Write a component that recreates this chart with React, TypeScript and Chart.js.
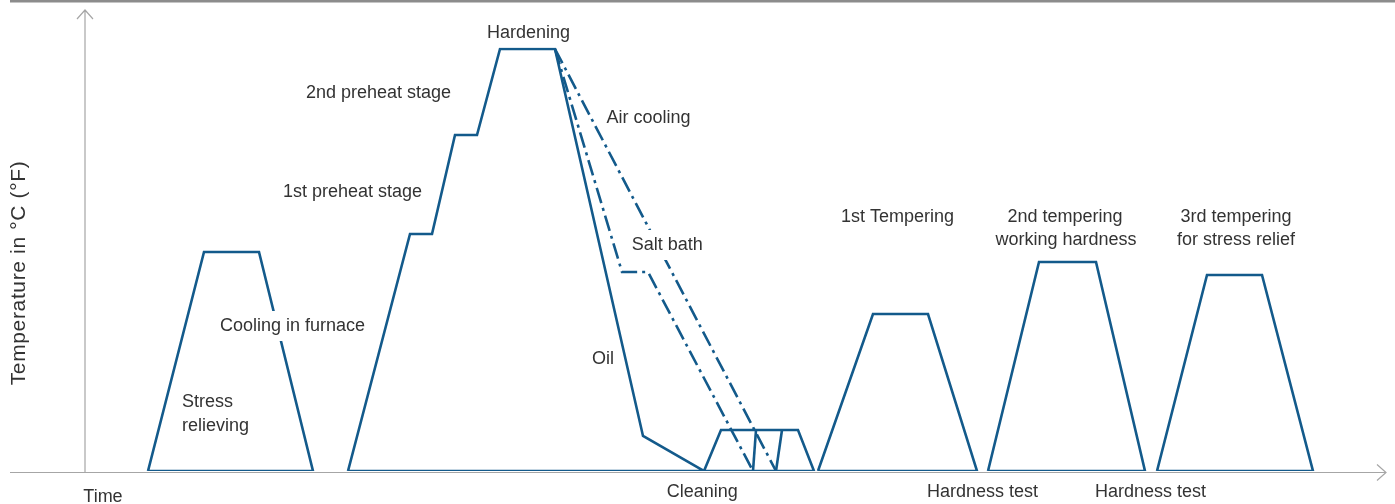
import React, { useEffect, useRef } from "react";
import { Chart, registerables } from "chart.js";

Chart.register(...registerables);

// Time (x) / temperature (y) in relative units
const stressX = [63, 119, 174, 228, 63];
const stressY = [0, 219, 219, 0, 0];

const hardenX = [263, 325, 347, 370, 392, 415, 470, 558, 619, 263];
const hardenY = [0, 237, 237, 336, 336, 422, 422, 35, 0, 0];

const cleanX = [619, 636, 713, 729, 619];
const cleanY = [0, 41, 41, 0, 0];

const saltX = [470, 537, 563, 668];
const saltY = [422, 199, 199, 0];
const saltUpX = [668, 671];
const saltUpY = [0, 41];

const airX = [470, 691];
const airY = [422, 0];
const airUpX = [691, 697];
const airUpY = [0, 41];

const temper1X = [733, 788, 843, 892, 733];
const temper1Y = [0, 157, 157, 0, 0];
const temper2X = [903, 954, 1011, 1060, 903];
const temper2Y = [0, 209, 209, 0, 0];
const temper3X = [1072, 1122, 1177, 1228, 1072];
const temper3Y = [0, 196, 196, 0, 0];

const labelTexts = [
  "Hardening",
  "2nd preheat stage",
  "Air cooling",
  "1st preheat stage",
  "Salt bath",
  "Cooling in furnace",
  "Stress",
  "relieving",
  "Oil",
  "1st Tempering",
  "2nd tempering",
  "working hardness",
  "3rd tempering",
  "for stress relief",
  "Time",
  "Cleaning",
  "Hardness test",
  "Hardness test",
];
const labelX = [402, 221, 521.5, 198, 546.7, 135, 97, 97, 507, 756, 980, 981, 1151, 1151, -1.7, 581.7, 842, 1010];
const labelY = [433.5, 373.5, 347.7, 274.5, 221, 140, 64, 40.5, 107.5, 249.5, 249.3, 226, 249.3, 226, -30.7, -25.7, -25.7, -25.7];
const labelAlign = ["left", "left", "left", "left", "left", "left", "left", "left", "left", "left", "center", "center", "center", "center", "left", "left", "left", "left"];

const yTitle = "Temperature in °C (°F)";

const BLUE = "#135a8b";
const TEXT = "#333333";
const AXIS = "#a6a6a6";
const FONT = '"Liberation Sans", Arial, sans-serif';

function pts(xs: number[], ys: number[]) {
  return xs.map((x, i) => ({ x, y: ys[i] }));
}

function ds(xs: number[], ys: number[], dashed = false) {
  return {
    data: pts(xs, ys),
    showLine: true,
    borderColor: BLUE,
    backgroundColor: BLUE,
    borderWidth: 2.6,
    pointRadius: 0,
    tension: 0,
    fill: false,
    borderJoinStyle: "miter" as const,
    borderCapStyle: "butt" as const,
    borderDash: dashed ? [16, 5, 3, 5] : [],
  };
}

const decorPlugin = {
  id: "decor",
  beforeDatasetsDraw(chart: any) {
    const ctx = chart.ctx as CanvasRenderingContext2D;
    const xs = chart.scales.x;
    const ys = chart.scales.y;
    const x0 = xs.getPixelForValue(0);
    const y0 = ys.getPixelForValue(0) + 1.5;
    const yTop = ys.getPixelForValue(ys.max);
    const xEnd = xs.getPixelForValue(xs.max);
    ctx.save();
    ctx.fillStyle = "#8c8c8c";
    ctx.fillRect(10, 0, chart.width - 10, 2.5);
    ctx.strokeStyle = AXIS;
    ctx.lineWidth = 1.2;
    ctx.beginPath();
    ctx.moveTo(x0, y0);
    ctx.lineTo(x0, yTop);
    ctx.moveTo(x0 - 8, yTop + 9);
    ctx.lineTo(x0, yTop);
    ctx.lineTo(x0 + 8, yTop + 9);
    ctx.moveTo(10, y0);
    ctx.lineTo(xEnd, y0);
    ctx.moveTo(xEnd - 9, y0 - 8);
    ctx.lineTo(xEnd, y0);
    ctx.lineTo(xEnd - 9, y0 + 8);
    ctx.stroke();
    ctx.restore();
  },
  afterDatasetsDraw(chart: any) {
    const ctx = chart.ctx as CanvasRenderingContext2D;
    const xs = chart.scales.x;
    const ys = chart.scales.y;
    ctx.save();
    ctx.font = `18px ${FONT}`;
    ctx.textBaseline = "alphabetic";
    labelTexts.forEach((t, i) => {
      const px = xs.getPixelForValue(labelX[i]);
      const py = ys.getPixelForValue(labelY[i]);
      const w = ctx.measureText(t).width;
      const left = labelAlign[i] === "center" ? px - w / 2 : px;
      ctx.fillStyle = "#ffffff";
      ctx.fillRect(left - 3, py - 20, w + 6, 30);
    });
    labelTexts.forEach((t, i) => {
      const px = xs.getPixelForValue(labelX[i]);
      const py = ys.getPixelForValue(labelY[i]);
      ctx.fillStyle = TEXT;
      ctx.textAlign = labelAlign[i] as CanvasTextAlign;
      ctx.fillText(t, px, py);
    });
    ctx.translate(25, 273);
    ctx.rotate(-Math.PI / 2);
    ctx.font = `21px ${FONT}`;
    const base = ctx.measureText(yTitle).width;
    const spacing = Math.max(0, (224 - base) / (yTitle.length - 1));
    (ctx as any).letterSpacing = `${spacing}px`;
    ctx.textAlign = "center";
    ctx.fillStyle = TEXT;
    ctx.fillText(yTitle, 0, 0);
    ctx.restore();
  },
};

export default function App() {
  const ref = useRef<HTMLCanvasElement | null>(null);
  useEffect(() => {
    if (!ref.current) return;
    const chart = new Chart(ref.current, {
      type: "scatter",
      data: {
        datasets: [
          ds(stressX, stressY),
          ds(hardenX, hardenY),
          ds(cleanX, cleanY),
          ds(saltX, saltY, true),
          ds(saltUpX, saltUpY),
          ds(airX, airY, true),
          ds(airUpX, airUpY),
          ds(temper1X, temper1Y),
          ds(temper2X, temper2Y),
          ds(temper3X, temper3Y),
        ] as any,
      },
      options: {
        animation: false,
        responsive: false,
        maintainAspectRatio: false,
        layout: { padding: { left: 85, right: 9, top: 10, bottom: 33 } },
        scales: {
          x: { type: "linear", min: 0, max: 1301, display: false },
          y: { type: "linear", min: 0, max: 461, display: false },
        },
        plugins: { legend: { display: false }, tooltip: { enabled: false } },
        events: [],
      },
      plugins: [decorPlugin],
    });
    return () => chart.destroy();
  }, []);
  return (
    <div style={{ position: "absolute", left: 0, top: 0, width: 1395, height: 504, background: "#fff" }}>
      <canvas ref={ref} width={1395} height={504} style={{ display: "block" }} />
    </div>
  );
}
